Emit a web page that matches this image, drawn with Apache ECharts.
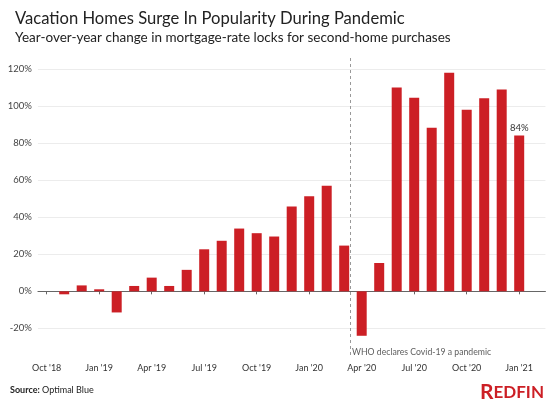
<!DOCTYPE html>
<html>
<head>
<meta charset="utf-8">
<script src="https://cdn.jsdelivr.net/npm/echarts@6/dist/echarts.min.js"></script>
<style>
html,body{margin:0;padding:0;background:#fff;}
#chart{width:547px;height:408px;}
</style>
</head>
<body>
<div id="chart"></div>
<script>
// ---- data ----
var months = ["Oct '18","Nov '18","Dec '18","Jan '19","Feb '19","Mar '19","Apr '19","May '19","Jun '19",
  "Jul '19","Aug '19","Sep '19","Oct '19","Nov '19","Dec '19","Jan '20","Feb '20","Mar '20",
  "Apr '20","May '20","Jun '20","Jul '20","Aug '20","Sep '20","Oct '20","Nov '20","Dec '20","Jan '21"];
var yoyChange = [null, -1.6, 3.2, 1.1, -11.4, 2.9, 7.4, 2.9, 11.6,
  22.7, 27.3, 33.9, 31.4, 29.6, 45.8, 51.4, 57.0, 24.7,
  -24.0, 15.3, 110.1, 104.5, 88.3, 118.1, 98.0, 104.2, 109.0, 84.1];
var yTicks = [-20, 0, 20, 40, 60, 80, 100, 120];
var annotationIndex = 17.33; // Mar 11 2020 (month index from Oct '18)
var annotationText = 'WHO declares Covid-19 a pandemic';
var titleText = 'Vacation Homes Surge In Popularity During Pandemic';
var subtitleText = 'Year-over-year change in mortgage-rate locks for second-home purchases';

var FONT = 'Lato, "Open Sans", sans-serif';
var RED = '#cc1f25';

var cats = months.concat(['']);
var lastIdx = yoyChange.length - 1;
var barData = yoyChange.map(function (v, i) {
  if (i === lastIdx) {
    return { value: v, label: { show: true, position: 'top', distance: 3,
      formatter: function (p) { return Math.round(p.value) + '%'; },
      fontFamily: FONT, fontSize: 9.5, color: '#333' } };
  }
  return v;
});

var chart = echarts.init(document.getElementById('chart'), null, { renderer: 'canvas' });
var gridLeft = 37.95, gridRight = 1.55;
var option = {
  animation: false,
  backgroundColor: '#fff',
  title: {
    left: 10, top: 5, itemGap: 4,
    text: titleText, subtext: subtitleText,
    textStyle: { fontFamily: FONT, fontSize: 16.6, fontWeight: 'normal', color: '#222' },
    subtextStyle: { fontFamily: FONT, fontSize: 13.5, color: '#222' }
  },
  grid: [
    { left: gridLeft, right: gridRight, top: 69.1, height: 259.26 },
    { left: gridLeft, right: gridRight, top: 58, height: 300 }
  ],
  xAxis: [
    { gridIndex: 0, type: 'value', min: -0.5, max: 28.5, show: false },
    { gridIndex: 1, type: 'category', data: cats, position: 'bottom',
      axisLine: { show: true, lineStyle: { color: '#666', width: 1 } },
      axisTick: { show: true, alignWithLabel: true, interval: 2, length: 3, lineStyle: { color: '#666' } },
      axisLabel: { interval: 2, fontFamily: FONT, fontSize: 9, color: '#333', margin: 6 },
      splitLine: { show: false } },
    { gridIndex: 1, type: 'value', min: -0.5, max: 28.5, show: false, position: 'top' }
  ],
  yAxis: [
    { gridIndex: 0, type: 'value', min: yTicks[0], max: yTicks[yTicks.length - 1], interval: 20,
      axisLine: { show: false }, axisTick: { show: false },
      axisLabel: { formatter: '{value}%', fontFamily: FONT, fontSize: 9.5, color: '#444', margin: 6 },
      splitLine: { show: true, lineStyle: { color: '#ececec', width: 1 } } },
    { gridIndex: 1, type: 'value', min: -36, max: 126, show: false, splitLine: { show: false } }
  ],
  series: [
    { type: 'bar', xAxisIndex: 1, yAxisIndex: 1, data: barData, barWidth: 10,
      itemStyle: { color: RED } },
    { type: 'scatter', xAxisIndex: 2, yAxisIndex: 1, symbolSize: 0, silent: true,
      data: [[annotationIndex, -33]],
      label: { show: true, position: 'right', distance: 2, formatter: annotationText,
        fontFamily: FONT, fontSize: 8.7, color: '#333' },
      markLine: { silent: true, symbol: 'none', animation: false,
        label: { show: false },
        lineStyle: { type: [3, 3], color: '#999', width: 1 },
        data: [[{ coord: [annotationIndex, 126] }, { coord: [annotationIndex, -35] }]] } }
  ],
  graphic: [
    { type: 'text', left: 10, top: 386,
      style: { text: '{b|Source:} Optimal Blue', font: '9px ' + FONT, fill: '#222',
        rich: { b: { fontWeight: 'bold', fontFamily: FONT, fontSize: 9, fill: '#222' } } } },
    { type: 'text', right: 3, top: 382,
      style: { text: '{r|R}{e|EDFIN}', fill: RED,
        rich: { r: { fontFamily: FONT, fontWeight: 'bold', fontSize: 21, fill: RED },
                e: { fontFamily: FONT, fontWeight: 'bold', fontSize: 17, fill: RED } } } }
  ]
};
chart.setOption(option);
</script>
</body>
</html>
